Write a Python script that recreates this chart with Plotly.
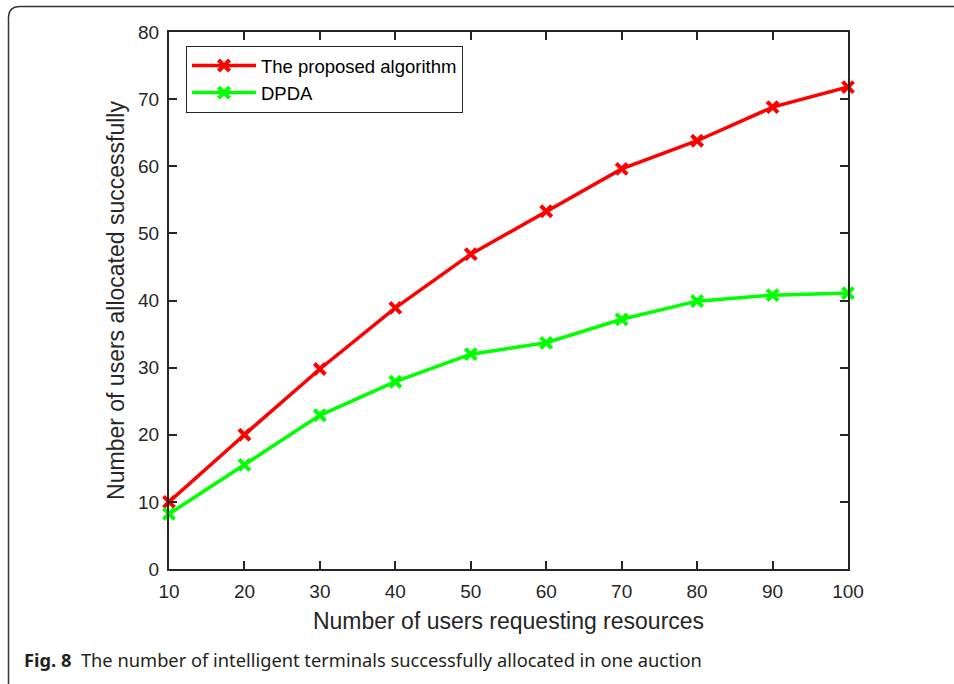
import plotly.graph_objects as go

users = [10, 20, 30, 40, 50, 60, 70, 80, 90, 100]
proposed = [10.0, 20.0, 29.8, 38.9, 46.9, 53.3, 59.6, 63.8, 68.8, 71.8]
dpda = [8.2, 15.5, 22.9, 27.9, 32.0, 33.7, 37.2, 39.9, 40.8, 41.1]
x_ticks = [10, 20, 30, 40, 50, 60, 70, 80, 90, 100]
y_ticks = [0, 10, 20, 30, 40, 50, 60, 70, 80]

W, H = 954, 684
L, R, T, B = 169, 848, 32, 569


def px(x):
    return (x - L) / (R - L)


def py(y):
    return (B - y) / (B - T)


fig = go.Figure()
fig.add_trace(go.Scatter(
    x=users, y=proposed, mode="lines+markers", name="The proposed algorithm",
    line=dict(color="#ff0000", width=3.5), cliponaxis=False,
    marker=dict(symbol="x-thin", size=11, line=dict(color="#ff0000", width=4), color="#ff0000"),
))
fig.add_trace(go.Scatter(
    x=users, y=dpda, mode="lines+markers", name="DPDA",
    line=dict(color="#00ff00", width=3.5), cliponaxis=False,
    marker=dict(symbol="x-thin", size=11, line=dict(color="#00ff00", width=4), color="#00ff00"),
))

axis_common = dict(
    showgrid=False, zeroline=False, showline=True, linecolor="#262626", linewidth=2,
    mirror="ticks", ticks="inside", ticklen=8, tickwidth=2, tickcolor="#262626",
    ticklabelstandoff=4,
    tickfont=dict(family="Liberation Sans, Arial, sans-serif", size=19, color="#262626"),
)

fig.update_xaxes(
    range=[10, 100], tickvals=x_ticks,
    title=dict(text="Number of users requesting resources", standoff=12,
               font=dict(family="Liberation Sans, Arial, sans-serif", size=23, color="#262626")),
    **axis_common,
)
fig.update_yaxes(
    range=[0, 80], tickvals=y_ticks,
    title=dict(text="Number of users allocated successfully", standoff=7,
               font=dict(family="Liberation Sans, Arial, sans-serif", size=23, color="#262626")),
    **axis_common,
)

frame_path = (
    f"M {px(960)},{py(6.5)} L {px(20)},{py(6.5)} "
    f"Q {px(8.5)},{py(6.5)} {px(8.5)},{py(18)} L {px(8.5)},{py(690)}"
)

fig.update_layout(
    width=W, height=H,
    margin=dict(l=L, r=W - R, t=T, b=H - B),
    paper_bgcolor="white", plot_bgcolor="white",
    showlegend=True,
    legend=dict(
        x=px(186), y=py(46), xanchor="left", yanchor="top",
        bgcolor="white", bordercolor="#262626", borderwidth=1,
        font=dict(family="Liberation Sans, Arial, sans-serif", size=18.5, color="black"),
        tracegroupgap=0, itemwidth=64,
    ),
    shapes=[dict(type="path", path=frame_path, xref="paper", yref="paper",
                 line=dict(color="#333333", width=1.5))],
    annotations=[dict(
        text="<b>Fig. 8</b>  The number of intelligent terminals successfully allocated in one auction",
        x=px(22), y=py(660), xref="paper", yref="paper", xanchor="left", yanchor="middle",
        showarrow=False, font=dict(family="Noto Sans, Open Sans, sans-serif", size=18.3, color="#231f20"),
    )],
)

fig.write_html("out.html", config={"displayModeBar": False},
               post_script="document.body.style.margin='0';")
